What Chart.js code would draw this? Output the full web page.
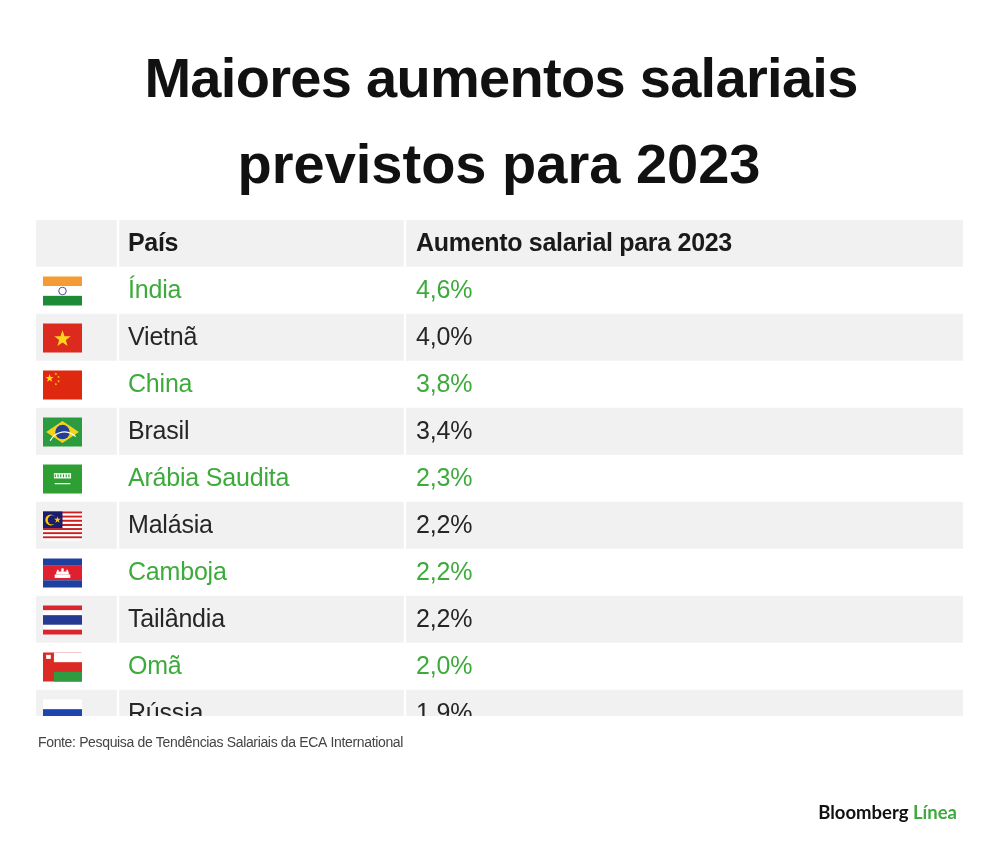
<!DOCTYPE html>
<html>
<head>
<meta charset="utf-8">
<script src="https://cdn.jsdelivr.net/npm/chart.js@4.4.0/dist/chart.umd.min.js"></script>
<style>
html, body { margin: 0; padding: 0; background: #fff; }
#wrap { width: 1000px; height: 857px; position: relative; }
</style>
</head>
<body>
<div id="wrap"><canvas id="myChart"></canvas></div>
<script>
const titleLines = ['Maiores aumentos salariais', 'previstos para 2023'];
const headers = ['País', 'Aumento salarial para 2023'];
const countries = ['Índia', 'Vietnã', 'China', 'Brasil', 'Arábia Saudita', 'Malásia', 'Camboja', 'Tailândia', 'Omã', 'Rússia'];
const flagCodes = ['in', 'vn', 'cn', 'br', 'sa', 'my', 'kh', 'th', 'om', 'ru'];
const raises = [4.6, 4.0, 3.8, 3.4, 2.3, 2.2, 2.2, 2.2, 2.0, 1.9];
const source = 'Fonte: Pesquisa de Tendências Salariais da ECA International';
const brand = ['Bloomberg', 'Línea'];

const GRAY = '#f1f1f1';
const GREEN = '#3dab3b';
const DARK = '#262626';

// column edges of the table (x scale units = px inside the table)
const colEdges = [0, 82, 369, 927];
const gap = 1.5;

const ctx = document.getElementById('myChart');

// row 0 is the header, rows 1..10 the countries
const rowCount = countries.length + 1;
const rowIdx = new Array(rowCount).fill(0).map((_, i) => i);
const rowColor = rowIdx.map((i) => i % 2 === 0 ? GRAY : '#ffffff');

function fmt(v) {
    return v.toFixed(1).replace('.', ',') + '%';
}

function star(c, cx, cy, r, rot) {
    c.beginPath();
    for (let k = 0; k < 10; k++) {
        const rr = k % 2 ? r * 0.4 : r;
        const a = -Math.PI / 2 + k * Math.PI / 5 + (rot || 0);
        c.lineTo(cx + rr * Math.cos(a), cy + rr * Math.sin(a));
    }
    c.closePath();
    c.fill();
}

function drawFlag(c, code, x, y, w, h) {
    const band = (col, y0, y1) => { c.fillStyle = col; c.fillRect(x, y + y0 * h, w, (y1 - y0) * h); };
    const cx = x + w / 2, cy = y + h / 2;
    switch (code) {
    case 'in':
        band('#f59b35', 0, 1/3); band('#ffffff', 1/3, 2/3); band('#1d8a35', 2/3, 1);
        c.strokeStyle = '#4a4aa8'; c.lineWidth = 1;
        c.beginPath(); c.arc(cx, cy, h * 0.13, 0, 2 * Math.PI); c.stroke();
        break;
    case 'vn':
        band('#dc2a1f', 0, 1);
        c.fillStyle = '#ffd51a'; star(c, cx, cy + 1, h * 0.3);
        break;
    case 'cn':
        band('#de2910', 0, 1);
        c.fillStyle = '#ffde00';
        star(c, x + w * 0.17, y + h * 0.27, h * 0.15);
        star(c, x + w * 0.33, y + h * 0.12, h * 0.05);
        star(c, x + w * 0.4, y + h * 0.22, h * 0.05);
        star(c, x + w * 0.4, y + h * 0.37, h * 0.05);
        star(c, x + w * 0.33, y + h * 0.47, h * 0.05);
        break;
    case 'br':
        band('#2a9b3f', 0, 1);
        c.fillStyle = '#f5d31c';
        c.beginPath();
        c.moveTo(x + w * 0.08, cy); c.lineTo(cx, y + h * 0.12);
        c.lineTo(x + w * 0.92, cy); c.lineTo(cx, y + h * 0.88);
        c.closePath(); c.fill();
        c.fillStyle = '#233f95';
        c.beginPath(); c.arc(cx, cy, h * 0.25, 0, 2 * Math.PI); c.fill();
        c.strokeStyle = '#ffffff'; c.lineWidth = 1.2;
        c.beginPath(); c.arc(cx + w * 0.05, cy + h * 0.55, h * 0.55, Math.PI * 1.15, Math.PI * 1.75); c.stroke();
        break;
    case 'sa':
        band('#2d9f33', 0, 1);
        c.fillStyle = '#ffffff';
        c.fillRect(x + w * 0.28, y + h * 0.3, w * 0.44, h * 0.18);
        c.fillStyle = '#2d9f33';
        for (let k = 0; k < 6; k++) c.fillRect(x + w * (0.3 + k * 0.07), y + h * 0.34, w * 0.03, h * 0.1);
        c.fillStyle = '#ffffff';
        c.fillRect(x + w * 0.3, y + h * 0.64, w * 0.4, 1.2);
        break;
    case 'my':
        for (let k = 0; k < 14; k++) band(k % 2 ? '#ffffff' : '#cc1f1f', k / 14, (k + 1) / 14);
        c.fillStyle = '#1b1c6b';
        c.fillRect(x, y, w * 0.5, h * 8 / 14);
        c.fillStyle = '#ffcc00';
        c.beginPath(); c.arc(x + w * 0.2, y + h * 0.29, h * 0.19, 0, 2 * Math.PI); c.fill();
        c.fillStyle = '#1b1c6b';
        c.beginPath(); c.arc(x + w * 0.24, y + h * 0.29, h * 0.16, 0, 2 * Math.PI); c.fill();
        c.fillStyle = '#ffcc00'; star(c, x + w * 0.37, y + h * 0.29, h * 0.12);
        break;
    case 'kh':
        band('#1f3f9e', 0, 0.25); band('#e0202f', 0.25, 0.75); band('#1f3f9e', 0.75, 1);
        c.fillStyle = '#ffffff';
        c.fillRect(x + w * 0.3, y + h * 0.55, w * 0.4, h * 0.12);
        c.fillRect(x + w * 0.34, y + h * 0.45, w * 0.32, h * 0.1);
        c.fillRect(x + w * 0.47, y + h * 0.34, w * 0.06, h * 0.12);
        c.fillRect(x + w * 0.36, y + h * 0.39, w * 0.04, h * 0.08);
        c.fillRect(x + w * 0.6, y + h * 0.39, w * 0.04, h * 0.08);
        break;
    case 'th':
        band('#d9262e', 0, 1/6); band('#ffffff', 1/6, 2/6); band('#263a92', 2/6, 4/6);
        band('#ffffff', 4/6, 5/6); band('#d9262e', 5/6, 1);
        break;
    case 'om':
        band('#db2a25', 0, 1);
        c.fillStyle = '#ffffff'; c.fillRect(x + w * 0.28, y, w * 0.72, h / 3);
        c.fillStyle = '#2f9a3f'; c.fillRect(x + w * 0.28, y + h * 2 / 3, w * 0.72, h / 3);
        c.fillStyle = '#ffffff';
        c.fillRect(x + w * 0.08, y + h * 0.08, w * 0.12, h * 0.14);
        break;
    case 'ru':
        band('#ffffff', 0, 1/3); band('#1c45b0', 1/3, 2/3); band('#d52b1e', 2/3, 1);
        break;
    }
}

const tablePlugin = {
    id: 'tableText',
    afterDatasetsDraw(chart) {
        const c = chart.ctx;
        const {x: xs, y: ys} = chart.scales;
        const area = chart.chartArea;
        c.save();
        c.beginPath();
        c.rect(area.left, area.top, area.right - area.left, area.bottom - area.top);
        c.clip();
        c.textBaseline = 'middle';
        c.textAlign = 'left';
        const nameX = xs.getPixelForValue(colEdges[1]) + 10;
        const valX = xs.getPixelForValue(colEdges[2]) + 11;
        // header
        const hy = ys.getPixelForValue(0) + 1;
        c.font = 'bold 25px "Liberation Sans", Arial, sans-serif';
        c.letterSpacing = '-0.3px';
        c.fillStyle = '#1a1a1a';
        c.fillText(headers[0], nameX, hy);
        c.fillText(headers[1], valX, hy);
        // rows
        c.font = '25px "Liberation Sans", Arial, sans-serif';
        c.letterSpacing = '-0.2px';
        countries.forEach((name, i) => {
            const py = ys.getPixelForValue(i + 1);
            const col = i % 2 === 0 ? GREEN : DARK;
            drawFlag(c, flagCodes[i], xs.getPixelForValue(colEdges[0]) + 7, py - 14, 39, 29);
            c.fillStyle = col;
            c.fillText(name, nameX, py + 1);
            c.fillText(fmt(raises[i]), valX, py + 1);
        });
        c.restore();
    },
    afterDraw(chart) {
        const c = chart.ctx;
        c.save();
        // title
        c.fillStyle = '#111111';
        c.textAlign = 'center';
        c.textBaseline = 'alphabetic';
        c.font = 'bold 56px "Liberation Sans", Arial, sans-serif';
        c.letterSpacing = '-0.7px';
        c.fillText(titleLines[0], 501, 97);
        c.letterSpacing = '0px';
        c.fillText(titleLines[1], 499, 183);
        // source
        c.textAlign = 'left';
        c.font = '14px "Liberation Sans", Arial, sans-serif';
        c.letterSpacing = '-0.35px';
        c.fillStyle = '#444444';
        c.fillText(source, 38, 747);
        // brand
        c.font = 'bold 18.5px Lato, "Liberation Sans", sans-serif';
        c.letterSpacing = '0px';
        c.textAlign = 'right';
        c.fillStyle = GREEN;
        c.fillText(brand[1], 957, 819);
        const w = c.measureText(brand[1] + ' ').width;
        c.fillStyle = '#111111';
        c.fillText(brand[0], 957 - w, 819);
        c.restore();
    }
};

const datasets = [0, 1, 2].map((col) => ({
    label: 'col' + col,
    data: rowIdx.map((i) => ({ y: i, x: [colEdges[col] + (col > 0 ? gap : 0), colEdges[col + 1] - (col < 2 ? gap : 0)] })),
    backgroundColor: rowColor,
    borderWidth: 0,
    grouped: false,
    barPercentage: 1,
    categoryPercentage: 1
}));

const tableChart = new Chart(ctx, {
    type: 'bar',
    data: { datasets: datasets },
    options: {
        indexAxis: 'y',
        responsive: true,
        maintainAspectRatio: false,
        animation: false,
        layout: { padding: { left: 36, right: 37, top: 220, bottom: 141 } },
        scales: {
            x: { type: 'linear', min: 0, max: colEdges[3], display: false },
            y: {
                type: 'linear', reverse: true, min: -0.5, max: 10.053, display: false,
                offset: false, grid: { offset: false },
                ticks: { stepSize: 1, includeBounds: false }
            }
        },
        plugins: {
            legend: { display: false },
            tooltip: { enabled: false }
        }
    },
    plugins: [tablePlugin]
});
</script>
</body>
</html>
